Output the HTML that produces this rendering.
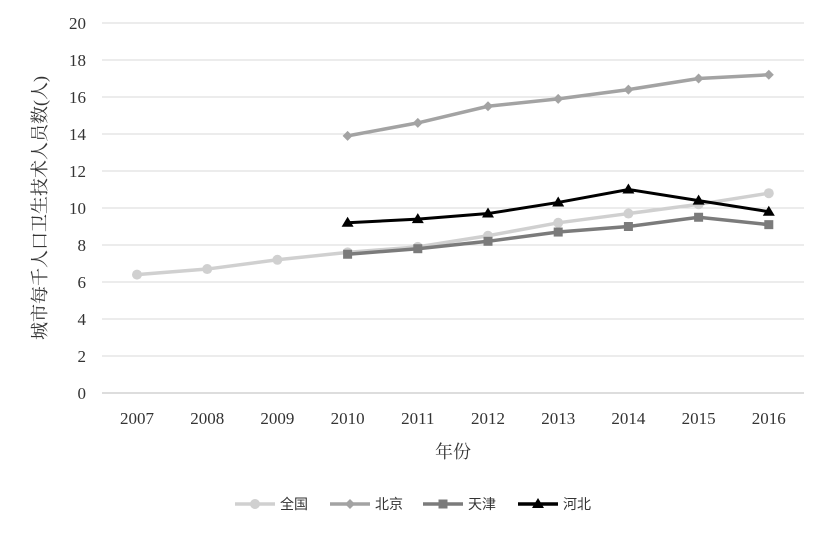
<!DOCTYPE html>
<html><head><meta charset="utf-8"><style>
body{margin:0;background:#fff;}
svg text{font-family:"Liberation Serif","Noto Serif CJK SC",serif;fill:#333;}
.leg{font-family:"Liberation Sans","Noto Sans CJK SC",sans-serif !important;}
</style></head><body>
<svg id="chart" width="827" height="531" xmlns="http://www.w3.org/2000/svg"></svg>
<script>
const years=[2007,2008,2009,2010,2011,2012,2013,2014,2015,2016];
const yTicks=[0,2,4,6,8,10,12,14,16,18,20];
const quanguo=[6.4,6.7,7.2,7.6,7.9,8.5,9.2,9.7,10.2,10.8];
const beijing=[null,null,null,13.9,14.6,15.5,15.9,16.4,17.0,17.2];
const tianjin=[null,null,null,7.5,7.8,8.2,8.7,9.0,9.5,9.1];
const hebei=[null,null,null,9.2,9.4,9.7,10.3,11.0,10.4,9.8];
const seriesNames=["全国","北京","天津","河北"];
const NS="http://www.w3.org/2000/svg";
const svg=document.getElementById('chart');
const x0=137,dx=70.2,yBase=393,yTop=23;
const X=i=>x0+i*dx;
const Y=v=>yBase-(v/20)*(yBase-yTop);
function mk(t,a,p){const e=document.createElementNS(NS,t);for(const k in a)e.setAttribute(k,a[k]);(p||svg).appendChild(e);return e;}
yTicks.forEach(t=>{
  const g=mk('line',{x1:102,x2:804,y1:Y(t),y2:Y(t),stroke:t===0?'#bbb':'#d9d9d9','stroke-width':1});
  
  
  const l=mk('text',{x:86,y:Y(t)+6,'text-anchor':'end','font-size':17});
  l.textContent=t;
  
  
});
years.forEach((yr,i)=>{
  const l=mk('text',{x:X(i),y:424,'text-anchor':'middle','font-size':17});
  l.textContent=yr;
  
  
});
const xt=mk('text',{x:453,y:458,'text-anchor':'middle','font-size':18});
xt.textContent='年份';


const yt=mk('text',{x:0,y:0,'text-anchor':'middle','font-size':18,transform:'translate(46,208) rotate(-90)'});
yt.textContent='城市每千人口卫生技术人员数(人)';


const data=[quanguo,beijing,tianjin,hebei];
const colors=['#d0d0d0','#a3a3a3','#7b7b7b','#000'];
const markers=['circle','diamond','square','triangle'];
function marker(type,cx,cy,c,g){
  let e;
  if(type==='circle')e=mk('circle',{cx,cy,r:5,fill:c},g);
  else if(type==='diamond')e=mk('polygon',{points:`${cx},${cy-5} ${cx+5},${cy} ${cx},${cy+5} ${cx-5},${cy}`,fill:c},g);
  else if(type==='square')e=mk('rect',{x:cx-4.5,y:cy-4.5,width:9,height:9,fill:c},g);
  else e=mk('polygon',{points:`${cx},${cy-6} ${cx+6},${cy+4} ${cx-6},${cy+4}`,fill:c},g);
  return e;
}
data.forEach((arr,s)=>{
  const g=mk('g',{});
  
  
  const pts=[];arr.forEach((v,i)=>{if(v!=null)pts.push([X(i),Y(v)]);});
  const pl=mk('polyline',{points:pts.map(p=>p.join(',')).join(' '),fill:'none',stroke:colors[s],'stroke-width':s===3?3:3.5},g);
  
  
  pts.forEach(p=>{
    const m=marker(markers[s],p[0],p[1],colors[s],g);
    
    
  });
});
const legX=[235,330,423,518];
seriesNames.forEach((n,s)=>{
  const g=mk('g',{});
  
  
  mk('line',{x1:legX[s],x2:legX[s]+40,y1:504,y2:504,stroke:colors[s],'stroke-width':3.5},g);
  marker(markers[s],legX[s]+20,504,colors[s],g);
  const t=mk('text',{x:legX[s]+45,y:509,'font-size':14,class:'leg'},g);
  t.textContent=n;
});
</script>
</body></html>
